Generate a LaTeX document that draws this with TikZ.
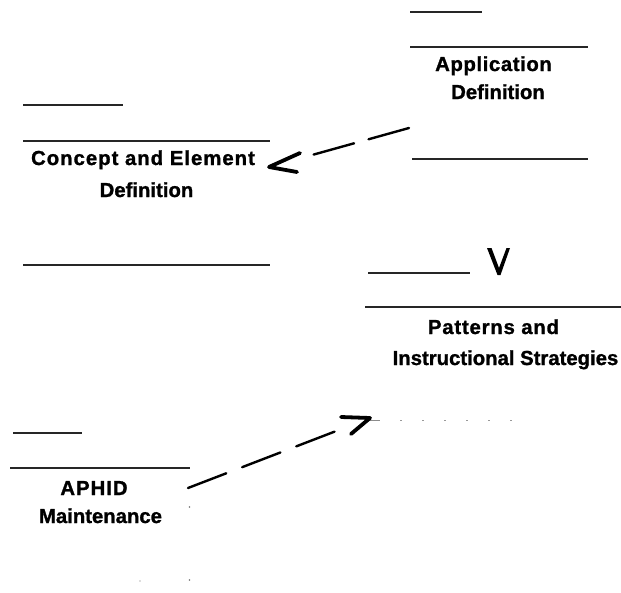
\documentclass[tikz,border=0pt]{standalone}
\usepackage{fontspec}
\setmainfont{Liberation Sans}[BoldFeatures={FakeBold=1.2}]
\begin{document}
\begin{tikzpicture}[x=1pt,y=-1pt,
  rule/.style={draw=black!85,line width=1.4pt},
  lbl/.style={font=\bfseries\fontsize{20.3}{24}\selectfont,anchor=base,inner sep=0pt},
  flow/.style={line width=2.4pt,line cap=round},
  tiphead/.style={line width=3.8pt,line cap=round,line join=round},
  speck/.style={fill=black!55}]
\useasboundingbox[fill=white] (0,0) rectangle (621,592);

% Concept and Element Definition
\draw[rule] (23,105) -- (123,105);
\draw[rule] (23,141) -- (270,141);
\draw[rule] (23,265) -- (270,265);
\node[lbl] (ced1) at (143,165) {\addfontfeature{LetterSpace=5}Concept and Element};
\node[lbl] (ced2) at (146.5,197) {Definition};

% Application Definition
\draw[rule] (410,12) -- (482,12);
\draw[rule] (410,47) -- (588,47);
\draw[rule] (412,159) -- (588,159);
\node[lbl] (app1) at (493.5,71) {\addfontfeature{LetterSpace=3}Application};
\node[lbl] (app2) at (498,99) {Definition};

% Patterns and Instructional Strategies
\draw[rule] (368,273) -- (470,273);
\draw[rule] (365,307) -- (621,307);
\node[lbl] (pat1) at (493.5,334) {\addfontfeature{LetterSpace=4}Patterns and};
\node[lbl] (pat2) at (505.5,365) {Instructional Strategies};
\draw[black!45,line width=0.9pt] (368,420) -- (380,420);
\draw[black!40,line width=0.9pt,dash pattern=on 2pt off 20pt] (400,420) -- (522,420);

% V mark
\fill (487,248) -- (491.5,248) -- (499,268) -- (506.5,248) -- (510,248) -- (500.5,275) -- (497.5,275) -- cycle;

% APHID Maintenance
\draw[rule] (13,433) -- (82,433);
\draw[rule] (10,468) -- (190,468);
\node[lbl] (aph1) at (94,495) {\addfontfeature{LetterSpace=5}APHID};
\node[lbl] (aph2) at (100.5,523) {Maintenance};

% connectors
\coordinate (appout) at (409,128);
\coordinate (cedtip) at (269,167);
\draw[flow,dash pattern=on 42pt off 15pt,shorten >=32pt] (appout) -- (cedtip);
\draw[tiphead] (300,153) -- (cedtip) -- (297,172);

\coordinate (aphout) at (188,488);
\coordinate (pattip) at (370,418);
\draw[flow,dash pattern=on 41pt off 17pt,shorten >=33pt] (aphout) -- (pattip);
\draw[tiphead] (341,417) -- (pattip) -- (351,434);

% scan specks
\fill[speck] (189.5,507) circle (0.8pt);
\fill[speck] (189.5,580) circle (0.8pt);
\fill[speck] (140,581) circle (0.6pt);
\end{tikzpicture}
\end{document}
